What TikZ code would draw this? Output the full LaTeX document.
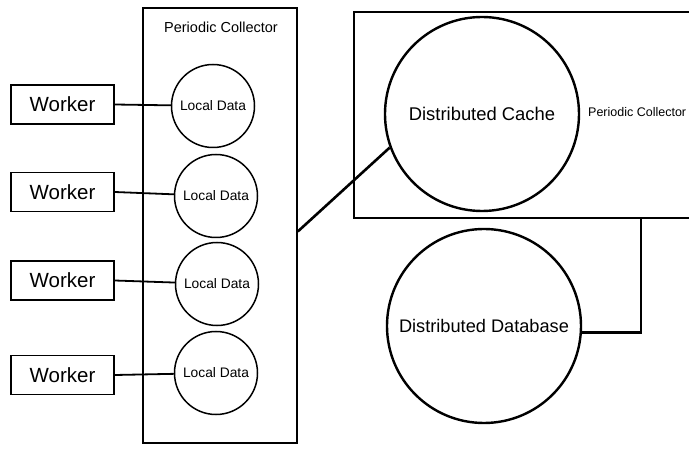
\documentclass[tikz,border=0pt]{standalone}
\usepackage{fontspec}
\setmainfont{Liberation Sans}
\usepackage{tikz}
\usetikzlibrary{positioning, calc}
\tikzset{
    worker/.style={draw, line width=1.6pt, minimum width=103pt, minimum height=39pt,
                   inner sep=0pt, font=\fontsize{20.5}{22}\selectfont},
    localdata/.style={draw, circle, line width=1.5pt, minimum size=83pt, inner sep=0pt,
                      font=\fontsize{13.8}{15}\selectfont},
    store/.style={draw, circle, line width=2.4pt, minimum size=194pt, inner sep=0pt,
                  font=\fontsize{18.4}{20}\selectfont},
    frame/.style={draw, line width=1.6pt, inner sep=0pt},
    link/.style={line width=1.8pt}
}

\begin{document}
\begin{tikzpicture}[x=1pt, y=-1pt]
\clip (0,0) rectangle (689,465);
\fill[white] (0,0) rectangle (689,465);
\node[frame, minimum width=154pt, minimum height=435pt] (coll) at (220,225.5) {};
\node[font=\fontsize{14.5}{16}\selectfont] (colltitle) at (221,27) {Periodic Collector};
\node[frame, line width=2.2pt, minimum width=366pt, minimum height=206pt] (cbox) at (537,115) {};
\node[worker] (w1) at (62.5,104.5) {Worker};
\node[worker] (w2) at (62.5,192) {Worker};
\node[worker] (w3) at (62.5,280.5) {Worker};
\node[worker] (w4) at (62.5,375) {Worker};
\node[localdata] (ld1) at (213,106) {Local Data};
\node[localdata] (ld2) at (216,196) {Local Data};
\node[localdata] (ld3) at (217,284) {Local Data};
\node[localdata] (ld4) at (216,373) {Local Data};
\node[store] (cache) at (482,114) {Distributed Cache};
\node[font=\fontsize{12.5}{14}\selectfont, anchor=west, inner sep=0pt] (cachetitle) at (588,112) {Periodic Collector};
\node[store, font=\fontsize{18.2}{20}\selectfont] (db) at (484,326) {Distributed Database};
\foreach \i in {1,...,4}
    \draw[link] (w\i.east) -- (ld\i);
\draw[link, line width=2.6pt] ([yshift=-6pt]coll.east) -- (cache.200);
\draw[link, line width=2.8pt] (db.-4) -| ([xshift=288pt]cbox.south west);
\end{tikzpicture}
\end{document}
